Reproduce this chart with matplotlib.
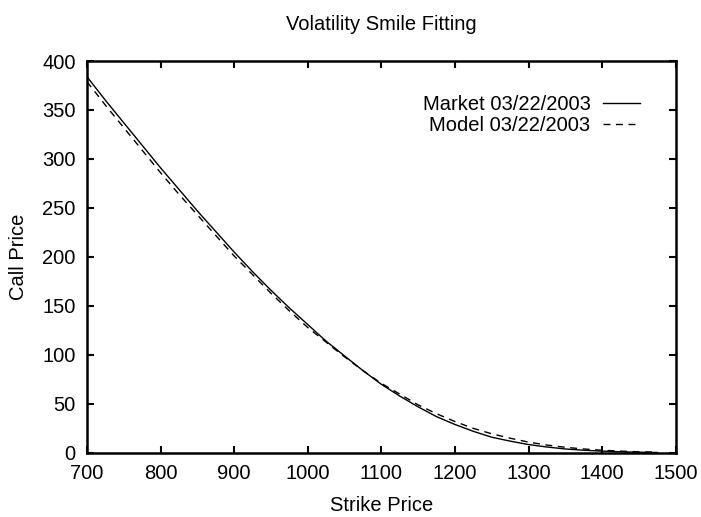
import matplotlib
matplotlib.use("Agg")
import matplotlib.pyplot as plt

plt.rcParams['font.family'] = ['Liberation Sans', 'DejaVu Sans']

strike = [700, 725, 750, 775, 800, 825, 850, 875, 900, 925, 950, 975,
          1000, 1025, 1050, 1075, 1100, 1125, 1150, 1175, 1200, 1225,
          1250, 1275, 1300, 1325, 1350, 1375, 1400, 1425, 1450, 1475]
market = [384, 360, 337, 314, 291, 269, 247, 226, 205, 185, 166, 148,
          131, 114, 99, 84, 70, 58, 47, 37, 29, 22,
          16, 12, 8.5, 6, 4, 2.7, 1.8, 1.1, 0.7, 0.4]
model = [379, 355, 332, 309, 286, 264, 243, 222, 201, 182, 163, 145,
         128, 113, 98, 84, 71, 60, 49, 40, 32, 25,
         19.5, 15, 11, 8, 5.7, 4, 2.7, 1.8, 1.1, 0.7]

fs = 14.5
fig = plt.figure(figsize=(7.01, 5.17), dpi=100)
ax = fig.add_axes([0.124, 0.124, 0.84, 0.758])

ax.plot(strike, market, color='black', lw=1.0, label='Market 03/22/2003')
ax.plot(strike, model, color='black', lw=1.0, ls=(0, (5, 4)), label='Model 03/22/2003')

ax.set_xlim(700, 1500)
ax.set_ylim(0, 400)
ax.set_xticks(range(700, 1501, 100))
ax.set_yticks(range(0, 401, 50))
ax.tick_params(direction='in', top=True, right=True, length=5, width=1.5, labelsize=fs, pad=8)
for s in ax.spines.values():
    s.set_linewidth(1.8)

ax.set_xlabel('Strike Price', fontsize=fs, labelpad=9)
ax.set_ylabel('Call Price', fontsize=fs, labelpad=10)
ax.set_title('Volatility Smile Fitting', fontsize=fs, pad=22)

ax.legend(loc='upper right', bbox_to_anchor=(0.939, 0.914), frameon=False, markerfirst=False,
          fontsize=fs, handlelength=1.85, handletextpad=0.6, labelspacing=0.1,
          borderpad=0, borderaxespad=0)

fig.savefig('out.png', dpi=100)
